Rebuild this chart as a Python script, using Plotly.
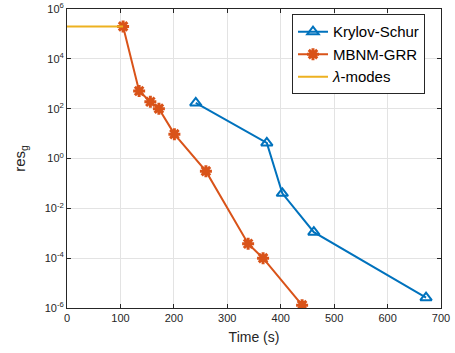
import plotly.graph_objects as go

# Data
ks_t = [241, 374, 403, 462, 672]
ks_res = [170, 4.2, 0.04, 1.1e-3, 2.6e-6]

mb_t = [105, 135, 156, 172, 201, 260, 339, 367, 440]
mb_res = [2e5, 510, 190, 100, 9.5, 0.31, 3.8e-4, 1.0e-4, 1.3e-6]

lm_t = [0, 105]
lm_res = [2e5, 2e5]

ytick_vals = [1e-6, 1e-4, 1e-2, 1e0, 1e2, 1e4, 1e6]
ytick_text = ["10<sup>-6</sup>", "10<sup>-4</sup>", "10<sup>-2</sup>", "10<sup>0</sup>",
              "10<sup>2</sup>", "10<sup>4</sup>", "10<sup>6</sup>"]
xtick_vals = [0, 100, 200, 300, 400, 500, 600, 700]

BLUE = "#0072BD"
ORANGE = "#D95319"
YELLOW = "#EDB120"
AX = "#262626"
FONT = "Liberation Sans, Arial, sans-serif"

fig = go.Figure()
fig.add_trace(go.Scatter(x=ks_t, y=ks_res, mode="lines+markers", name="Krylov-Schur",
                         line=dict(color=BLUE, width=2),
                         marker=dict(symbol="triangle-up-open", size=10,
                                     line=dict(color=BLUE, width=2), color=BLUE)))
fig.add_trace(go.Scatter(x=mb_t, y=mb_res, mode="lines+markers", name="MBNM-GRR",
                         line=dict(color=ORANGE, width=2),
                         marker=dict(symbol="asterisk-open", size=10,
                                     line=dict(color=ORANGE, width=3), color=ORANGE)))
fig.add_trace(go.Scatter(x=lm_t, y=lm_res, mode="lines", name="<i>λ</i>-modes",
                         line=dict(color=YELLOW, width=2)))

fig.update_layout(
    width=455, height=353,
    margin=dict(l=67, r=14, t=9, b=45),
    paper_bgcolor="white", plot_bgcolor="white",
    font=dict(family=FONT, color=AX, size=11),
    showlegend=True,
    legend=dict(x=0.6016, y=0.982, xanchor="left", yanchor="top",
                bgcolor="white", bordercolor=AX, borderwidth=1,
                font=dict(size=15, color="black"), tracegroupgap=0,
                itemwidth=30),
    xaxis=dict(range=[0, 700], tickvals=xtick_vals, ticks="inside", ticklen=4,
               tickcolor=AX, showline=True, linecolor=AX, linewidth=1, mirror="ticks",
               showgrid=True, gridcolor="#e3e3e3", gridwidth=1, zeroline=False,
               automargin=False,
               tickfont=dict(size=11, color=AX),
               title=dict(text="Time (s)", font=dict(size=14, color=AX), standoff=8)),
    yaxis=dict(type="log", range=[-6, 6], tickvals=ytick_vals, ticktext=ytick_text,
               ticks="inside", ticklen=4, tickcolor=AX, showline=True, linecolor=AX,
               linewidth=1, mirror="ticks", showgrid=True, gridcolor="#e3e3e3",
               gridwidth=1, zeroline=False, automargin=False,
               tickfont=dict(size=11, color=AX),
               title=dict(text="res<sub>g</sub>", font=dict(size=15, color=AX))),
)

fig.write_html("out.html")
